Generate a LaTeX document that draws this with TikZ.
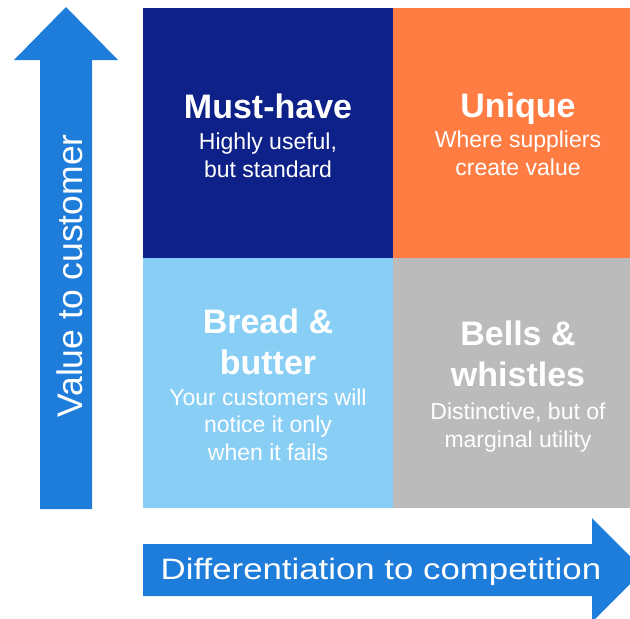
\documentclass[tikz,border=0pt]{standalone}
\usepackage{fontspec}
\setmainfont{Liberation Sans}
\usepackage{xcolor}
\usepackage{tikz}
\usetikzlibrary{positioning}
\definecolor{navyq}{HTML}{0E2188}
\definecolor{orangeq}{HTML}{FF7D43}
\definecolor{skyq}{HTML}{89CFF5}
\definecolor{greyq}{HTML}{BBBBBB}
\definecolor{axisblue}{HTML}{1E7DDA}

\begin{document}
\begin{tikzpicture}[
        x=1pt, y=-1pt,
        quad/.style={
            rectangle,
            inner sep=0pt,
            minimum width=250pt,
            minimum height=250pt,
            anchor=north west
        },
        title/.style={
            text=white,
            align=center,
            inner sep=0pt,
            anchor=base,
            font=\fontsize{34}{41}\selectfont\bfseries
        },
        sub/.style={
            text=white,
            align=center,
            inner sep=0pt,
            anchor=base,
            font=\fontsize{23}{27.5}\selectfont
        },
        axislabel/.style={
            text=white,
            inner sep=0pt,
            anchor=base
        }
    ]
        \clip (0,0) rectangle (630,619);
        \useasboundingbox (0,0) rectangle (630,619);

        % the four quadrants
        \node (must)   [quad, fill=navyq]   at (143,8)   {};
        \node (unique) [quad, fill=orangeq] at (393,8)   {};
        \node (bread)  [quad, fill=skyq]    at (143,258) {};
        \node (bells)  [quad, fill=greyq]   at (393,258) {};

        % axes
        \fill[axisblue] (40,509) -- (92,509) -- (92,60) -- (118,60)
            -- (66,7) -- (14,60) -- (40,60) -- cycle;
        \fill[axisblue] (143,544) -- (592,544) -- (592,518) -- (644,570)
            -- (592,622) -- (592,596) -- (143,596) -- cycle;

        \node (yaxis) [axislabel, rotate=90, font=\fontsize{35.5}{40}\selectfont]
            at (82,276) {Value to customer};
        \node (xaxis) [axislabel, font=\fontsize{29.5}{34}\selectfont]
            at (381,579) {\scalebox{1.18}[1]{Differentiation to competition}};

        % texts (base = last line)
        \node (musttitle) [title] at (268,118) {Must-have};
        \node (mustsub)   [sub]   at (268,177) {Highly useful,\\but standard};

        \node (uniquetitle) [title] at (518,117) {Unique};
        \node (uniquesub)   [sub]   at (518,175) {Where suppliers\\create value};

        \node (breadtitle) [title] at (268,374) {Bread \&\\butter};
        \node (breadsub)   [sub]   at (268,460) {Your customers will\\notice it only\\when it fails};

        \node (bellstitle) [title] at (518,386) {Bells \&\\whistles};
        \node (bellssub)   [sub]   at (518,447) {Distinctive, but of\\marginal utility};
    \end{tikzpicture}
\end{document}
